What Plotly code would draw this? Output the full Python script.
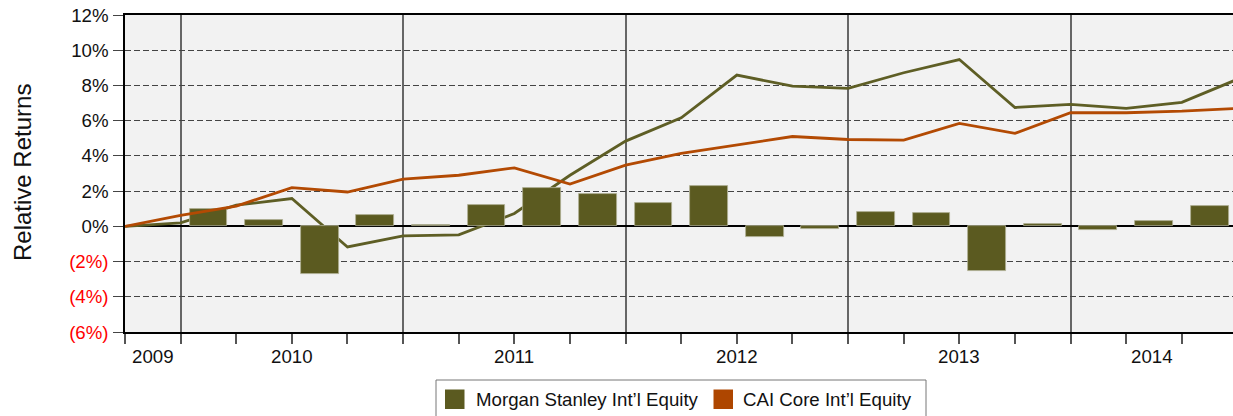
import plotly.graph_objects as go

# Quarter-end points for the cumulative relative return lines (Sep 2009 .. Sep 2014)
period_ends = [
    "Sep 2009", "Dec 2009", "Mar 2010", "Jun 2010", "Sep 2010", "Dec 2010",
    "Mar 2011", "Jun 2011", "Sep 2011", "Dec 2011", "Mar 2012", "Jun 2012",
    "Sep 2012", "Dec 2012", "Mar 2013", "Jun 2013", "Sep 2013", "Dec 2013",
    "Mar 2014", "Jun 2014", "Sep 2014",
]
morgan_cum = [0.0, 0.2, 1.2, 1.58, -1.17, -0.54, -0.48, 0.73, 2.9, 4.84, 6.16,
              8.59, 7.96, 7.83, 8.72, 9.47, 6.75, 6.92, 6.7, 7.04, 8.35]
cai_cum = [0.0, 0.62, 1.15, 2.2, 1.95, 2.68, 2.9, 3.32, 2.4, 3.47, 4.14,
           4.62, 5.1, 4.93, 4.89, 5.84, 5.28, 6.45, 6.45, 6.54, 6.7]

# Quarterly relative returns (bars), one per quarter starting 1Q 2010
quarters = [
    "1Q10", "2Q10", "3Q10", "4Q10", "1Q11", "2Q11", "3Q11", "4Q11",
    "1Q12", "2Q12", "3Q12", "4Q12", "1Q13", "2Q13", "3Q13", "4Q13",
    "1Q14", "2Q14", "3Q14",
]
quarterly_rel = [1.0, 0.35, -2.68, 0.63, 0.05, 1.24, 2.2, 1.84, 1.31, 2.28,
                 -0.6, -0.15, 0.8, 0.73, -2.53, 0.16, -0.22, 0.33, 1.18]

years = ["2009", "2010", "2011", "2012", "2013", "2014"]
year_start_idx = [-3, 1, 5, 9, 13, 17]   # index of the quarter-end that opens each year

y_ticks = [-6, -4, -2, 0, 2, 4, 6, 8, 10, 12]

GREEN = "#5B5A20"
GREEN_LINE = "#5E5E25"
ORANGE = "#B34A03"
FONT = "Liberation Sans, Arial, Helvetica, sans-serif"
FS = 18.67

W, H = 1233, 416
ML, MR, MT, MB = 125, 0, 15, 84
PW, PH = W - ML - MR, H - MT - MB
X_MAX = 19.92  # visible span in quarters

def px_x(px):
    return (px - ML) / PW

def px_y(py):
    return (MT + PH - py) / PH

x_line = list(range(len(period_ends)))
first_bar = period_ends.index("Dec 2009")
x_bar = [first_bar + i + 0.5 for i in range(len(quarters))]

fig = go.Figure()

fig.add_trace(go.Scatter(
    x=x_line, y=morgan_cum, mode="lines", name="Morgan Stanley Int’l Equity",
    line=dict(color=GREEN_LINE, width=2.8), showlegend=False,
    xaxis="x", yaxis="y",
))
fig.add_trace(go.Bar(
    x=x_bar, y=quarterly_rel, width=0.68, name="Quarterly",
    marker=dict(color=GREEN, line=dict(color="#b0b094", width=0.8)),
    showlegend=False, xaxis="x2", yaxis="y2",
))
fig.add_trace(go.Scatter(
    x=x_line, y=cai_cum, mode="lines", name="CAI Core Int’l Equity",
    line=dict(color=ORANGE, width=2.8), showlegend=False,
    xaxis="x2", yaxis="y2",
))

def tick_text(v):
    if v < 0:
        return f'<span style="color:#ff0000">({-v}%)</span>'
    return f"{v}%"

year_lines = [i for i in year_start_idx if 0 < i < X_MAX]

fig.update_layout(
    width=W, height=H,
    margin=dict(l=ML, r=MR, t=MT, b=MB),
    paper_bgcolor="white",
    plot_bgcolor="#F2F2F2",
    font=dict(family=FONT, size=FS, color="#111"),
    bargap=0,
    xaxis=dict(
        range=[0, X_MAX], showline=True, linecolor="black", linewidth=1.5,
        mirror=True, tickmode="array", tickvals=year_lines,
        showticklabels=False, ticks="outside", ticklen=10, tickwidth=1.5,
        tickcolor="#555", showgrid=True, gridcolor="#666", gridwidth=1.5,
        zeroline=False,
        minor=dict(tickmode="linear", tick0=0, dtick=1, ticks="outside",
                   ticklen=10, tickwidth=1.5, tickcolor="#555", showgrid=False),
    ),
    yaxis=dict(
        range=[-6, 12], showline=True, linecolor="black", linewidth=1.5,
        mirror=False, tickmode="array", tickvals=y_ticks,
        ticktext=[tick_text(v) for v in y_ticks],
        ticks="outside", ticklen=10, tickwidth=1.3, tickcolor="#444",
        ticklabelstandoff=1,
        tickfont=dict(size=FS, color="#111"),
        showgrid=True, gridcolor="#444", gridwidth=1.3, griddash="6px,3px",
        zeroline=True, zerolinecolor="black", zerolinewidth=2,
    ),
    xaxis2=dict(range=[0, X_MAX], overlaying="x", visible=False),
    yaxis2=dict(range=[-6, 12], overlaying="y", visible=False),
)

annotations = []
# Year labels, centred on the visible part of each year
for label, start in zip(years, year_start_idx):
    lo, hi = max(start, 0), min(start + 4, X_MAX)
    annotations.append(dict(
        x=(lo + hi) / 2, xref="x", y=px_y(356), yref="paper",
        text=label, showarrow=False, xanchor="center", yanchor="middle",
        font=dict(size=FS, color="#111"),
    ))

annotations.append(dict(
    x=px_x(22), y=px_y(173), xref="paper", yref="paper",
    text="Relative Returns", textangle=-90, showarrow=False,
    xanchor="center", yanchor="middle", font=dict(size=24, color="#111"),
))

# Legend drawn as a framed row of swatches and labels
shapes = [
    dict(type="rect", xref="paper", yref="paper",
         x0=px_x(436), x1=px_x(926), y0=px_y(380), y1=px_y(422),
         line=dict(color="#777", width=1), fillcolor="white", layer="above"),
    dict(type="rect", xref="paper", yref="paper",
         x0=px_x(445), x1=px_x(464.5), y0=px_y(389.5), y1=px_y(409),
         line=dict(width=0), fillcolor=GREEN, layer="above"),
    dict(type="rect", xref="paper", yref="paper",
         x0=px_x(713.5), x1=px_x(733), y0=px_y(389.5), y1=px_y(409),
         line=dict(width=0), fillcolor="#AE4600", layer="above"),
]
for label, left in [("Morgan Stanley Int’l Equity", 474), ("CAI Core Int’l Equity", 741)]:
    annotations.append(dict(
        x=px_x(left), y=px_y(399.5), xref="paper", yref="paper",
        text=label, showarrow=False, xanchor="left", yanchor="middle",
        font=dict(size=FS, color="#111"),
    ))

fig.update_layout(annotations=annotations, shapes=shapes)

fig.write_html("out.html", config={"displayModeBar": False})
